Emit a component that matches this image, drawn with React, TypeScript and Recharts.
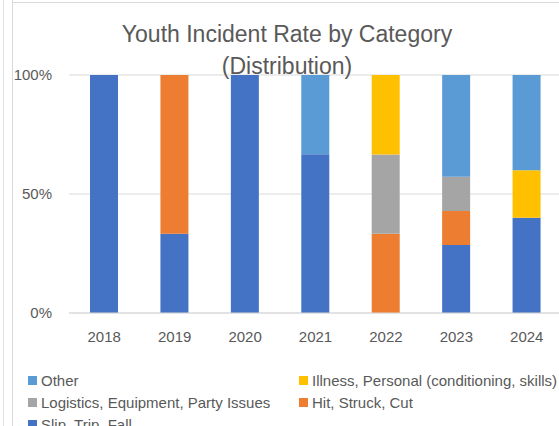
import React from 'react';
import { BarChart, Bar, XAxis, YAxis, CartesianGrid } from 'recharts';

const years = ['2018', '2019', '2020', '2021', '2022', '2023', '2024'];
const slipTripFall = [100, 33.3, 100, 66.7, 0, 28.6, 40];
const hitStruckCut = [0, 66.7, 0, 0, 33.3, 14.3, 0];
const logistics = [0, 0, 0, 0, 33.3, 14.3, 0];
const illness = [0, 0, 0, 0, 33.4, 0, 20];
const other = [0, 0, 0, 33.3, 0, 42.8, 40];
const yTicks = [0, 50, 100];
const titleLines = ['Youth Incident Rate by Category', '(Distribution)'];

const series = [
  { key: 'slip', name: 'Slip, Trip, Fall', color: '#4472C4', values: slipTripFall },
  { key: 'hit', name: 'Hit, Struck, Cut', color: '#ED7D31', values: hitStruckCut },
  { key: 'logistics', name: 'Logistics, Equipment, Party Issues', color: '#A5A5A5', values: logistics },
  { key: 'illness', name: 'Illness, Personal (conditioning, skills)', color: '#FFC000', values: illness },
  { key: 'other', name: 'Other', color: '#5B9BD5', values: other },
];

// legend order as in reference (rows, two columns)
const legendOrder = ['other', 'illness', 'logistics', 'hit', 'slip'];

const data = years.map((y, i) => {
  const row: Record<string, string | number> = { year: y };
  series.forEach((s) => {
    row[s.key] = s.values[i];
  });
  return row;
});

const FONT = '"Liberation Sans", Arial, sans-serif';
const TEXT = '#595959';

export default function App() {
  return (
    <div
      style={{
        position: 'absolute',
        left: 0,
        top: 0,
        width: 559,
        height: 426,
        overflow: 'hidden',
        background: '#fff',
        fontFamily: FONT,
      }}
    >
      {/* frame lines */}
      <div style={{ position: 'absolute', left: 3, top: 0, width: 1, height: 426, background: '#e3e3e3' }} />
      <div style={{ position: 'absolute', left: 12, top: 0, width: 1, height: 426, background: '#d9d9d9' }} />
      <div style={{ position: 'absolute', left: 12, top: 2, width: 560, height: 1, background: '#d9d9d9' }} />

      <div style={{ position: 'absolute', left: 0, top: 0 }}>
        <BarChart
          width={570}
          height={426}
          data={data}
          margin={{ top: 75, right: 8, left: 0, bottom: 83 }}
          barSize={28}
        >
          <CartesianGrid vertical={false} stroke="#d9d9d9" strokeWidth={1} />
          <XAxis
            dataKey="year"
            axisLine={{ stroke: '#d9d9d9' }}
            tickLine={false}
            tickSize={0}
            tickMargin={18}
            height={30}
            tick={{ fill: TEXT, fontSize: 15, fontFamily: FONT }}
          />
          <YAxis
            domain={[0, 100]}
            ticks={yTicks}
            tickFormatter={(v: number) => `${v}%`}
            axisLine={false}
            tickLine={false}
            tickSize={0}
            tickMargin={17}
            width={69}
            tick={{ fill: TEXT, fontSize: 15, fontFamily: FONT }}
          />
          {series.map((s) => (
            <Bar
              key={s.key}
              dataKey={s.key}
              name={s.name}
              stackId="a"
              fill={s.color}
              isAnimationActive={false}
            />
          ))}
        </BarChart>
      </div>

      {/* title */}
      <div
        style={{
          position: 'absolute',
          left: 12,
          width: 550,
          top: 18,
          textAlign: 'center',
          fontSize: 23,
          lineHeight: '32px',
          color: TEXT,
          pointerEvents: 'none',
        }}
      >
        {titleLines.map((t) => (
          <div key={t}>{t}</div>
        ))}
      </div>

      {/* legend */}
      <div style={{ position: 'absolute', left: 28, top: 369, width: 560 }}>
        {legendOrder.map((k, i) => {
          const s = series.find((x) => x.key === k)!;
          const col = i % 2;
          const row = Math.floor(i / 2);
          return (
            <div
              key={k}
              style={{
                position: 'absolute',
                left: col === 0 ? 0 : 271,
                top: row * 22,
                height: 22,
                display: 'flex',
                alignItems: 'center',
                whiteSpace: 'nowrap',
                fontSize: 15,
                color: TEXT,
              }}
            >
              <span style={{ display: 'inline-block', width: 9, height: 9, background: s.color, marginRight: 4 }} />
              <span>{s.name}</span>
            </div>
          );
        })}
      </div>
    </div>
  );
}
